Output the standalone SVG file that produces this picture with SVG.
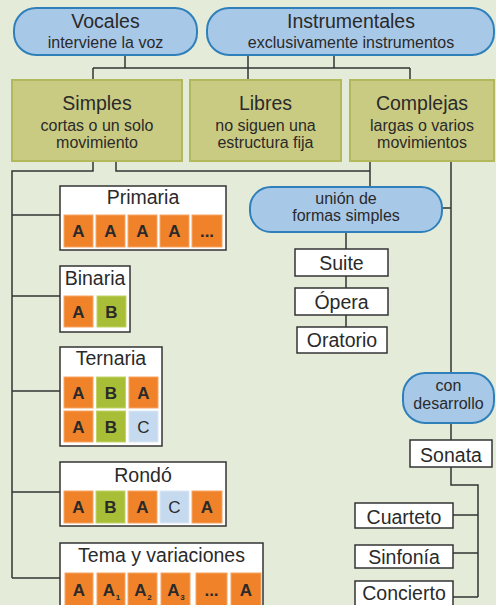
<svg xmlns="http://www.w3.org/2000/svg" width="496" height="605" viewBox="0 0 496 605">
<defs>
<style>
text{font-family:"Liberation Sans",Arial,sans-serif;fill:#2a2a2a;text-anchor:middle}
.t{font-size:19.5px}
.s{font-size:16px}
.pill{fill:#a8c8e8;stroke:#2f80ba;stroke-width:2}
.grp{fill:#cacb83;stroke:#b2b85c;stroke-width:2}
.box{fill:#ffffff;stroke:#333333;stroke-width:1.5}
.c{stroke:#333333;stroke-width:1.5;fill:none}
.o{fill:#f0822a;stroke:#f5a564;stroke-width:1}
.g{fill:#a8be36;stroke:#c2d36a;stroke-width:1}
.b{fill:#c6daef;stroke:#dde8f5;stroke-width:1}
.l{font-size:17px;font-weight:bold}
.sub{font-size:8px;font-weight:bold}
</style>
</defs>
<rect x="0" y="0" width="496" height="605" fill="#e4ecd9"/>
<g id="connectors" class="c">
<path d="M125 55V68M334 55V68M93 68H410M93 68V80M410 68V80M248 55V80"/>
<path d="M93 161V171H12V578M116 161V171H370M370 161V187"/>
<path d="M12 215H60M12 296H60M12 391H60M12 492H60M12 578H60"/>
<path d="M346 232V327"/>
<path d="M451 161V373M442 208H451M451 423V440M451 467V485H478V597M453 515H478M453 553H478M453 597H478"/>
</g>
<g id="vocales">
<rect class="pill" x="14" y="8" width="183" height="47" rx="22"/>
<text class="t" x="105.5" y="28">Vocales</text>
<text class="s" x="105.5" y="48">interviene la voz</text>
</g>
<g id="instrumentales">
<rect class="pill" x="207" y="8" width="287" height="47" rx="22"/>
<text class="t" x="351" y="28">Instrumentales</text>
<text class="s" x="351" y="48">exclusivamente instrumentos</text>
</g>
<g id="simples">
<rect class="grp" x="12" y="80" width="170" height="81"/>
<text class="t" x="97" y="110">Simples</text>
<text class="s" x="97" y="131">cortas o un solo</text>
<text class="s" x="97" y="148">movimiento</text>
</g>
<g id="libres">
<rect class="grp" x="190" y="80" width="151" height="81"/>
<text class="t" x="265.5" y="110">Libres</text>
<text class="s" x="265.5" y="131">no siguen una</text>
<text class="s" x="265.5" y="148">estructura fija</text>
</g>
<g id="complejas">
<rect class="grp" x="350" y="80" width="144" height="81"/>
<text class="t" x="422" y="110">Complejas</text>
<text class="s" x="422" y="131">largas o varios</text>
<text class="s" x="422" y="148">movimientos</text>
</g>
<g id="primaria">
<rect class="box" x="60" y="186" width="166" height="64"/>
<text class="t" x="143" y="204">Primaria</text>
<rect class="o" x="64" y="215" width="29" height="32"/>
<rect class="o" x="96" y="215" width="29" height="32"/>
<rect class="o" x="128" y="215" width="29" height="32"/>
<rect class="o" x="160" y="215" width="29" height="32"/>
<rect class="o" x="192" y="215" width="30" height="32"/>
<text class="l" x="78.5" y="237">A</text>
<text class="l" x="110.5" y="237">A</text>
<text class="l" x="142.5" y="237">A</text>
<text class="l" x="174.5" y="237">A</text>
<text class="l" x="207" y="237">...</text>
</g>
<g id="binaria">
<rect class="box" x="60" y="266" width="70" height="66"/>
<text class="t" x="95" y="285">Binaria</text>
<rect class="o" x="64" y="296" width="29" height="31"/>
<rect class="g" x="97" y="296" width="29" height="31"/>
<text class="l" x="78.5" y="318">A</text>
<text class="l" x="111.5" y="318">B</text>
</g>
<g id="ternaria">
<rect class="box" x="60" y="347" width="102" height="99"/>
<text class="t" x="111" y="365">Ternaria</text>
<rect class="o" x="64" y="377" width="29" height="31"/>
<rect class="g" x="96.5" y="377" width="29" height="31"/>
<rect class="o" x="129" y="377" width="29" height="31"/>
<rect class="o" x="64" y="411" width="29" height="31"/>
<rect class="g" x="96.5" y="411" width="29" height="31"/>
<rect class="b" x="129" y="411" width="29" height="31"/>
<text class="l" x="78.5" y="399">A</text>
<text class="l" x="111" y="399">B</text>
<text class="l" x="143.5" y="399">A</text>
<text class="l" x="78.5" y="433">A</text>
<text class="l" x="111" y="433">B</text>
<text class="l" x="143.5" y="433" style="font-weight:normal">C</text>
</g>
<g id="rondo">
<rect class="box" x="60" y="462" width="166" height="64"/>
<text class="t" x="143" y="482">Rondó</text>
<rect class="o" x="64" y="491" width="29" height="32"/>
<rect class="g" x="96" y="491" width="29" height="32"/>
<rect class="o" x="128" y="491" width="29" height="32"/>
<rect class="b" x="160" y="491" width="29" height="32"/>
<rect class="o" x="192" y="491" width="30" height="32"/>
<text class="l" x="78.5" y="513">A</text>
<text class="l" x="110.5" y="513">B</text>
<text class="l" x="142.5" y="513">A</text>
<text class="l" x="174.5" y="513" style="font-weight:normal">C</text>
<text class="l" x="207" y="513">A</text>
</g>
<g id="tema">
<rect class="box" x="60" y="543" width="203" height="66"/>
<text class="t" x="161.5" y="562">Tema y variaciones</text>
<rect class="o" x="65" y="573" width="28" height="34"/>
<rect class="o" x="97" y="573" width="28" height="34"/>
<rect class="o" x="128" y="573" width="29" height="34"/>
<rect class="o" x="161" y="573" width="29" height="34"/>
<rect class="o" x="196" y="573" width="31" height="34"/>
<rect class="o" x="231" y="573" width="30" height="34"/>
<text class="l" x="79" y="596">A</text>
<text class="l" x="109" y="596">A</text><text class="sub" x="118" y="600">1</text>
<text class="l" x="140.5" y="596">A</text><text class="sub" x="149.5" y="600">2</text>
<text class="l" x="173.5" y="596">A</text><text class="sub" x="182.5" y="600">3</text>
<text class="l" x="211.5" y="596">...</text>
<text class="l" x="246" y="596">A</text>
</g>
<g id="union">
<rect class="pill" x="250" y="187" width="192" height="45" rx="21"/>
<text class="s" x="346" y="204">unión de</text>
<text class="s" x="346" y="221">formas simples</text>
</g>
<g id="suite">
<rect class="box" x="295" y="249" width="93" height="27"/>
<text class="t" x="341.5" y="270">Suite</text>
</g>
<g id="opera">
<rect class="box" x="295" y="288" width="93" height="27"/>
<text class="t" x="341.5" y="309">Ópera</text>
</g>
<g id="oratorio">
<rect class="box" x="297" y="327" width="90" height="26"/>
<text class="t" x="342" y="347">Oratorio</text>
</g>
<g id="desarrollo">
<rect class="pill" x="403" y="373" width="91" height="50" rx="22"/>
<text class="s" x="448.5" y="391">con</text>
<text class="s" x="448.5" y="409">desarrollo</text>
</g>
<g id="sonata">
<rect class="box" x="410" y="440" width="82" height="27"/>
<text class="t" x="451" y="462">Sonata</text>
</g>
<g id="cuarteto">
<rect class="box" x="355" y="503" width="98" height="25"/>
<text class="t" x="404" y="524">Cuarteto</text>
</g>
<g id="sinfonia">
<rect class="box" x="355" y="545" width="98" height="23"/>
<text class="t" x="404" y="564">Sinfonía</text>
</g>
<g id="concierto">
<rect class="box" x="355" y="581" width="98" height="29"/>
<text class="t" x="404" y="600">Concierto</text>
</g>
</svg>
